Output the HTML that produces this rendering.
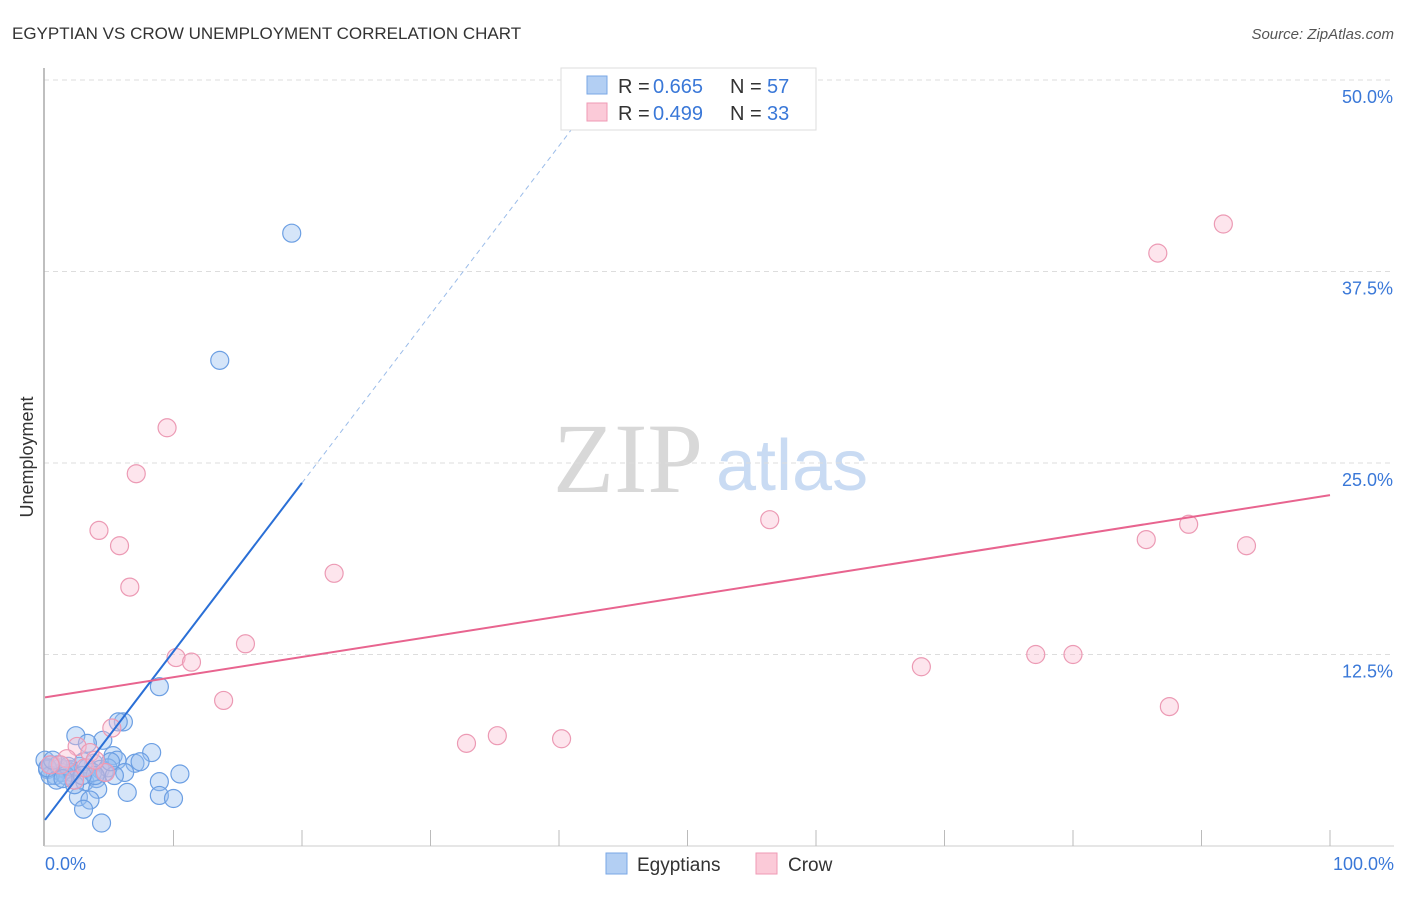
<!DOCTYPE html>
<html><head><meta charset="utf-8"><style>
body{margin:0;background:#fff;font-family:"Liberation Sans",sans-serif;}
</style></head><body>
<svg width="1406" height="892" style="font-family:'Liberation Sans',sans-serif">
<text x="12" y="39" font-size="17" fill="#333">EGYPTIAN VS CROW UNEMPLOYMENT CORRELATION CHART</text>
<text x="1394" y="39" font-size="15" fill="#555" font-style="italic" text-anchor="end">Source: ZipAtlas.com</text>
<g>
<text x="553" y="492" font-size="100" fill="#d8d8d8" style="font-family:'Liberation Serif',serif">ZIP</text>
<text x="716" y="490" font-size="72" fill="#c9dbf3">atlas</text>
</g>
<g id="grid"></g>
<line x1="44" y1="68" x2="44" y2="846" stroke="#aaa" stroke-width="1.5"/>
<line x1="44" y1="846" x2="1394" y2="846" stroke="#ccc"/>
<g id="xticks"></g>
<g id="ylabels"></g>
<text x="45" y="870" font-size="18" fill="#3a78d8">0.0%</text>
<text x="1394" y="870" font-size="18" fill="#3a78d8" text-anchor="end">100.0%</text>
<text transform="translate(33,457) rotate(-90)" font-size="18" fill="#333" text-anchor="middle">Unemployment</text>
<g id="pts"></g>
<g id="lines"></g>
<g>
<rect x="561" y="68" width="255" height="62" fill="#fff" stroke="#ddd"/>
<rect x="587" y="76" width="20" height="18" fill="#b3cff3" stroke="#7aa7e6"/>
<rect x="587" y="103" width="20" height="18" fill="#fbcad8" stroke="#ef9ab5"/>
<text x="618" y="93" font-size="20" fill="#333">R = </text><text x="653" y="93" font-size="20" fill="#3a78d8">0.665</text>
<text x="730" y="93" font-size="20" fill="#333">N = </text><text x="767" y="93" font-size="20" fill="#3a78d8">57</text>
<text x="618" y="120" font-size="20" fill="#333">R = </text><text x="653" y="120" font-size="20" fill="#3a78d8">0.499</text>
<text x="730" y="120" font-size="20" fill="#333">N = </text><text x="767" y="120" font-size="20" fill="#3a78d8">33</text>
</g>
<g>
<rect x="606" y="853" width="21" height="21" fill="#b3cff3" stroke="#7aa7e6"/>
<text x="637" y="871" font-size="19" fill="#333">Egyptians</text>
<rect x="756" y="853" width="21" height="21" fill="#fbcad8" stroke="#ef9ab5"/>
<text x="788" y="871" font-size="19" fill="#333">Crow</text>
</g>
</svg>
<script>
const yTicks=[12.5,25,37.5,50];
const yTickLabels=["12.5%","25.0%","37.5%","50.0%"];
const xTicks=[10,20,30,40,50,60,70,80,90,100];
const blueX=[19.2,13.6,8.9,6.1,5.7,2.4,4.5,3.3,8.3,5.3,7.0,5.6,3.8,0.0,0.5,0.2,1.2,1.9,2.7,3.3,4.3,4.6,6.2,10.5,8.9,2.3,3.1,4.0,6.4,4.1,2.6,3.5,8.9,10.0,3.0,4.4,1.6,0.8,1.3,2.1,4.9,1.0,0.4,1.6,3.0,3.7,1.8,2.3,5.4,7.4,0.2,0.6,0.9,1.4,5.1,3.9,2.9];
const blueY=[40.0,31.7,10.4,8.1,8.1,7.2,6.9,6.7,6.1,5.9,5.4,5.6,5.4,5.6,5.3,5.0,5.1,5.0,5.2,5.1,5.0,4.8,4.8,4.7,4.2,4.3,4.2,4.4,3.5,3.7,3.2,3.0,3.3,3.1,2.4,1.5,5.0,4.6,4.8,4.8,5.1,5.3,4.6,4.6,5.5,4.8,5.2,4.0,4.6,5.5,5.1,5.6,4.3,4.4,5.5,4.6,4.6];
const pinkX=[91.7,86.6,9.5,7.1,56.4,4.2,89.0,5.8,85.7,93.5,22.5,6.6,15.6,10.2,11.4,68.2,77.1,80.0,13.9,87.5,35.2,32.8,40.2,5.2,2.5,1.7,3.5,4.7,2.3,1.2,0.4,3.1,3.9];
const pinkY=[40.6,38.7,27.3,24.3,21.3,20.6,21.0,19.6,20.0,19.6,17.8,16.9,13.2,12.3,12.0,11.7,12.5,12.5,9.5,9.1,7.2,6.7,7.0,7.7,6.5,5.7,6.1,4.8,4.3,5.3,5.3,5.1,5.6];
const blueFit=[1.7,1.1];
const pinkFit=[9.7,0.132];
const NS='http://www.w3.org/2000/svg';
const sx=v=>45+v*12.85, sy=v=>846-v*15.32;
function mk(t,a,p){const e=document.createElementNS(NS,t);for(const k in a)e.setAttribute(k,a[k]);p.appendChild(e);return e;}
const grid=document.getElementById('grid'),yl=document.getElementById('ylabels'),xt=document.getElementById('xticks');
yTicks.forEach((v,i)=>{
 const l=mk('line',{x1:44,x2:1394,y1:sy(v),y2:sy(v),stroke:'#ddd','stroke-dasharray':'5,4'},grid);
 
 
 const t=mk('text',{x:1393,y:sy(v)+23,'font-size':18,fill:'#3a78d8','text-anchor':'end'},yl);
 t.textContent=yTickLabels[i];
 
 
});
xTicks.forEach(v=>{
 const l=mk('line',{x1:sx(v),x2:sx(v),y1:830,y2:846,stroke:'#bbb'},xt);
 
 
});
const pts=document.getElementById('pts');
blueX.forEach((x,i)=>{
 const c=mk('circle',{cx:sx(x),cy:sy(blueY[i]),r:9,fill:'rgba(150,190,240,0.4)',stroke:'#6c9fe3','stroke-width':1.2},pts);
 
 
});
pinkX.forEach((x,i)=>{
 const c=mk('circle',{cx:sx(x),cy:sy(pinkY[i]),r:9,fill:'rgba(250,190,210,0.4)',stroke:'#ec9ab4','stroke-width':1.2},pts);
 
 
});
const ln=document.getElementById('lines');
const bl=mk('line',{x1:sx(0),y1:sy(blueFit[0]),x2:sx(20),y2:sy(blueFit[0]+20*blueFit[1]),stroke:'#2a6fd6','stroke-width':2},ln);


const xe=(50-blueFit[0])/blueFit[1];
const bd=mk('line',{x1:sx(20),y1:sy(blueFit[0]+20*blueFit[1]),x2:sx(xe),y2:sy(50),stroke:'#9bbce9','stroke-width':1,'stroke-dasharray':'5,4'},ln);


const pl=mk('line',{x1:sx(0),y1:sy(pinkFit[0]),x2:sx(100),y2:sy(pinkFit[0]+100*pinkFit[1]),stroke:'#e8648f','stroke-width':2},ln);


</script>
</body></html>
